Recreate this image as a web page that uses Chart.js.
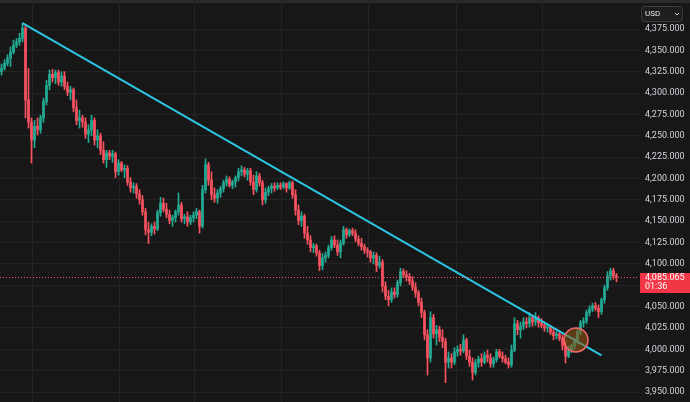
<!DOCTYPE html>
<html>
<head>
<meta charset="utf-8">
<script src="https://cdn.jsdelivr.net/npm/chart.js@4.4.1/dist/chart.umd.min.js"></script>
<style>
    html, body { margin: 0; padding: 0; background: #171717; }
    #wrap { width: 690px; height: 402px; position: relative; }
</style>
</head>
<body>
<div id="wrap"><canvas id="priceChart" width="690" height="402"></canvas></div>
<script>
// ========================================
// DATA (one candle per slot)
// ========================================

const opens = [
    4325, 4329, 4335, 4341, 4348, 4356, 4360, 4364, 4376, 4292,
    4266, 4245, 4261, 4257, 4271, 4290, 4309, 4322, 4318, 4324,
    4313, 4320, 4308, 4301, 4304, 4283, 4268, 4271, 4266, 4252,
    4257, 4268, 4245, 4250, 4233, 4222, 4230, 4226, 4229, 4208,
    4218, 4210, 4212, 4196, 4189, 4191, 4182, 4175, 4161, 4140,
    4137, 4144, 4141, 4160, 4171, 4164, 4158, 4151, 4154, 4161,
    4169, 4153, 4155, 4149, 4154, 4157, 4161, 4144, 4187, 4216,
    4198, 4181, 4177, 4183, 4188, 4195, 4199, 4192, 4196, 4201,
    4208, 4210, 4205, 4209, 4196, 4187, 4203, 4195, 4175, 4184,
    4188, 4191, 4189, 4192, 4190, 4194, 4189, 4195, 4181, 4163,
    4151, 4156, 4136, 4128, 4119, 4121, 4113, 4098, 4107, 4110,
    4119, 4128, 4122, 4114, 4124, 4140, 4134, 4139, 4136, 4129,
    4124, 4120, 4116, 4114, 4107, 4110, 4098, 4102, 4074, 4062,
    4058, 4067, 4064, 4078, 4091, 4087, 4085, 4080, 4073, 4066,
    4055, 4043, 4017, 3990, 4037, 4018, 4023, 4014, 4009, 3985,
    3990, 3985, 3997, 4000, 3998, 4011, 3992, 3985, 3973, 3984,
    3989, 3985, 3993, 3990, 3983, 3988, 3997, 3992, 3989, 3985,
    3982, 3999, 4030, 4023, 4027, 4032, 4030, 4037, 4032, 4036,
    4031, 4028, 4025, 4026, 4020, 4016, 4018, 4013, 4004, 3992,
    3999, 4004, 4009, 4020, 4031, 4033, 4043, 4047, 4051, 4048,
    4044, 4058, 4072, 4086, 4092, 4086
];

const highs = [
    4334, 4339, 4345, 4354, 4362, 4364, 4370, 4382, 4379, 4329,
    4271, 4268, 4271, 4274, 4294, 4315, 4327, 4328, 4327, 4327,
    4325, 4325, 4313, 4308, 4306, 4292, 4280, 4274, 4271, 4263,
    4274, 4271, 4257, 4253, 4243, 4233, 4233, 4233, 4231, 4222,
    4220, 4216, 4215, 4201, 4195, 4194, 4187, 4180, 4165, 4149,
    4147, 4149, 4163, 4178, 4177, 4171, 4163, 4157, 4163, 4183,
    4172, 4158, 4161, 4157, 4161, 4165, 4163, 4192, 4223, 4219,
    4208, 4189, 4187, 4191, 4198, 4203, 4202, 4198, 4203, 4212,
    4215, 4213, 4212, 4212, 4204, 4208, 4206, 4198, 4189, 4191,
    4194, 4195, 4195, 4195, 4196, 4195, 4197, 4197, 4187, 4169,
    4161, 4158, 4144, 4133, 4124, 4123, 4116, 4112, 4114, 4122,
    4132, 4133, 4128, 4128, 4144, 4142, 4141, 4142, 4140, 4133,
    4130, 4123, 4119, 4116, 4114, 4113, 4109, 4105, 4079, 4069,
    4072, 4072, 4081, 4095, 4094, 4092, 4089, 4085, 4078, 4069,
    4060, 4046, 4023, 4044, 4041, 4028, 4027, 4023, 4013, 3997,
    3995, 4002, 4004, 4006, 4017, 4013, 3999, 3990, 3988, 3992,
    3995, 3997, 3999, 3995, 3991, 4000, 4000, 3997, 3993, 3990,
    4005, 4037, 4034, 4032, 4037, 4037, 4043, 4040, 4043, 4039,
    4036, 4032, 4030, 4028, 4025, 4021, 4020, 4017, 4009, 4004,
    4006, 4013, 4025, 4034, 4037, 4046, 4051, 4054, 4055, 4052,
    4060, 4075, 4091, 4095, 4095, 4089
];

const lows = [
    4321, 4327, 4332, 4331, 4346, 4353, 4356, 4360, 4271, 4259,
    4218, 4236, 4251, 4253, 4266, 4286, 4304, 4313, 4311, 4309,
    4308, 4304, 4297, 4292, 4278, 4263, 4259, 4260, 4247, 4242,
    4250, 4239, 4236, 4228, 4218, 4213, 4222, 4219, 4201, 4204,
    4208, 4201, 4192, 4184, 4183, 4177, 4170, 4157, 4134, 4124,
    4133, 4135, 4139, 4156, 4161, 4154, 4147, 4144, 4149, 4157,
    4149, 4147, 4144, 4146, 4149, 4153, 4136, 4142, 4183, 4192,
    4175, 4172, 4171, 4178, 4184, 4191, 4190, 4188, 4190, 4197,
    4203, 4202, 4198, 4192, 4181, 4184, 4191, 4169, 4171, 4180,
    4183, 4185, 4187, 4187, 4188, 4184, 4187, 4177, 4157, 4146,
    4144, 4130, 4123, 4114, 4113, 4109, 4092, 4093, 4102, 4107,
    4116, 4119, 4110, 4107, 4122, 4130, 4132, 4133, 4126, 4121,
    4116, 4112, 4108, 4102, 4100, 4091, 4095, 4067, 4058, 4051,
    4055, 4060, 4061, 4074, 4084, 4080, 4076, 4069, 4061, 4051,
    4037, 4011, 3970, 3985, 4013, 4005, 4009, 4002, 3961, 3978,
    3978, 3982, 3992, 3993, 3996, 3988, 3980, 3964, 3970, 3979,
    3980, 3983, 3985, 3979, 3979, 3985, 3990, 3985, 3983, 3978,
    3979, 3997, 4017, 4013, 4023, 4025, 4026, 4027, 4028, 4026,
    4025, 4021, 4020, 4017, 4011, 4012, 4010, 3999, 3984, 3990,
    3996, 4000, 4006, 4017, 4026, 4030, 4039, 4044, 4045, 4037,
    4041, 4054, 4069, 4081, 4082, 4079
];

const closes = [
    4329, 4335, 4341, 4348, 4356, 4360, 4364, 4376, 4292, 4266,
    4245, 4261, 4257, 4271, 4290, 4309, 4322, 4318, 4324, 4313,
    4320, 4308, 4301, 4304, 4283, 4268, 4271, 4266, 4252, 4257,
    4268, 4245, 4250, 4233, 4222, 4230, 4226, 4229, 4208, 4218,
    4210, 4212, 4196, 4189, 4191, 4182, 4175, 4161, 4140, 4137,
    4144, 4141, 4160, 4171, 4164, 4158, 4151, 4154, 4161, 4169,
    4153, 4155, 4149, 4154, 4157, 4161, 4144, 4187, 4216, 4198,
    4181, 4177, 4183, 4188, 4195, 4199, 4192, 4196, 4201, 4208,
    4210, 4205, 4209, 4196, 4187, 4203, 4195, 4175, 4184, 4188,
    4191, 4189, 4192, 4190, 4194, 4189, 4195, 4181, 4163, 4151,
    4156, 4136, 4128, 4119, 4121, 4113, 4098, 4107, 4110, 4119,
    4128, 4122, 4114, 4124, 4140, 4134, 4139, 4136, 4129, 4124,
    4120, 4116, 4114, 4107, 4110, 4098, 4102, 4074, 4062, 4058,
    4067, 4064, 4078, 4091, 4087, 4085, 4080, 4073, 4066, 4055,
    4043, 4017, 3990, 4037, 4018, 4023, 4014, 4009, 3985, 3990,
    3985, 3997, 4000, 3998, 4011, 3992, 3985, 3973, 3984, 3989,
    3985, 3993, 3990, 3983, 3988, 3997, 3992, 3989, 3985, 3982,
    3999, 4030, 4023, 4027, 4032, 4030, 4037, 4032, 4036, 4031,
    4028, 4025, 4026, 4020, 4016, 4018, 4013, 4004, 3992, 3999,
    4004, 4009, 4020, 4031, 4033, 4043, 4047, 4051, 4048, 4044,
    4058, 4072, 4086, 4092, 4086, 4085.065
];

// price scale ticks
const priceTicks = [
    3950, 3975, 4000, 4025, 4050, 4075, 4100, 4125, 4150,
    4175, 4200, 4225, 4250, 4275, 4300, 4325, 4350, 4375
];

// session boundaries (candle slot where a new day starts)
const sessionStarts = [10.67, 40, 64.67, 93.67, 123, 152.33, 181];

// drawn trendline: [slot, price] from the top to its end
const trendLine = [[7.5, 4382], [200.5, 3993]];

// highlighted breakout spot: [slot, price]
const breakout = [192, 4011];

const lastPrice = 4085.065;
const countdown = '01:36';
const currency = 'USD';

// ========================================
// THEME
// ========================================

const BG = '#171717';
const GRID = '#242424';
const UP = '#22ab94';
const DOWN = '#f7525f';
const TEXT = '#d1d4dc';

const fmtPrice = v => v.toLocaleString('en-US', { minimumFractionDigits: 3, maximumFractionDigits: 3 });
const candleColor = ctx => closes[ctx.dataIndex] >= opens[ctx.dataIndex] ? UP : DOWN;

// ========================================
// OVERLAY PLUGIN (background, price line, labels)
// ========================================

const tvOverlay = {
    id: 'tvOverlay',
    beforeDraw(chart) {
        const { ctx, width, height } = chart;
        ctx.save();
        ctx.fillStyle = BG;
        ctx.fillRect(0, 0, width, height);
        ctx.fillStyle = '#2a2a2a';
        ctx.fillRect(0, 0, width, 3);
        ctx.restore();
    },
    afterDatasetsDraw(chart) {
        const { ctx, chartArea, scales: { y } } = chart;
        const py = Math.round(y.getPixelForValue(lastPrice)) + 0.5;
        ctx.save();
        ctx.strokeStyle = DOWN;
        ctx.lineWidth = 1;
        ctx.setLineDash([1, 2]);
        ctx.beginPath();
        ctx.moveTo(chartArea.left, py);
        ctx.lineTo(chartArea.right, py);
        ctx.stroke();
        ctx.restore();
    },
    afterDraw(chart) {
        const { ctx, chartArea, scales: { y } } = chart;
        const py = y.getPixelForValue(lastPrice);
        const bx = chartArea.right + 2;

        ctx.save();
        // last price label
        ctx.fillStyle = '#f23645';
        ctx.fillRect(bx, Math.round(py - 4), chart.width - bx, 20);
        ctx.fillStyle = '#ffffff';
        ctx.font = '9px Roboto, sans-serif';
        ctx.textBaseline = 'middle';
        ctx.fillText(fmtPrice(lastPrice), chartArea.right + 7, py + 1.5);
        ctx.fillText(countdown, chartArea.right + 7, py + 10.5);

        // currency selector
        const ux = 641, uy = 6, uw = 41, uh = 15;
        ctx.beginPath();
        ctx.roundRect(ux + 0.5, uy + 0.5, uw, uh, 3);
        ctx.fillStyle = '#1e1e1e';
        ctx.fill();
        ctx.strokeStyle = '#3c3c3c';
        ctx.stroke();
        ctx.fillStyle = '#e6e6e6';
        ctx.font = '8px Roboto, sans-serif';
        ctx.fillText(currency, ux + 4, uy + 8);
        ctx.strokeStyle = '#cfcfcf';
        ctx.lineWidth = 1;
        ctx.beginPath();
        ctx.moveTo(ux + 34, uy + 7);
        ctx.lineTo(ux + 36, uy + 9);
        ctx.lineTo(ux + 38, uy + 7);
        ctx.stroke();
        ctx.restore();
    }
};

// ========================================
// CHART
// ========================================

function initPriceChart(canvas) {
    const slots = opens.map((_, i) => i + 0.5);

    return new Chart(canvas.getContext('2d'), {
        type: 'bar',
        data: {
            datasets: [
                {
                    type: 'line',
                    data: trendLine.map(([x, y]) => ({ x, y })),
                    borderColor: '#2cc5e3',
                    borderWidth: 2,
                    pointRadius: 0,
                    order: 2
                },
                {
                    type: 'bubble',
                    data: [{ x: breakout[0], y: breakout[1], r: 12 }],
                    backgroundColor: 'rgba(150, 90, 20, 0.55)',
                    borderColor: '#f36b6b',
                    borderWidth: 1.5,
                    order: 1
                },
                {
                    // bodies: open -> close
                    data: slots.map((x, i) => ({ x, y: [opens[i], closes[i]] })),
                    backgroundColor: candleColor,
                    barThickness: 2,
                    minBarLength: 1,
                    grouped: false,
                    order: 3
                },
                {
                    // wicks: low -> high
                    data: slots.map((x, i) => ({ x, y: [lows[i], highs[i]] })),
                    backgroundColor: candleColor,
                    barThickness: 1,
                    grouped: false,
                    order: 4
                }
            ]
        },
        options: {
            responsive: false,
            animation: false,
            layout: { padding: 0, autoPadding: false },
            plugins: {
                legend: { display: false },
                tooltip: { enabled: false }
            },
            scales: {
                x: {
                    type: 'linear',
                    min: 0,
                    max: 212.67,
                    offset: false,
                    grid: { color: GRID, offset: false, drawTicks: false },
                    border: { display: false },
                    ticks: { display: false },
                    afterBuildTicks: scale => {
                        scale.ticks = sessionStarts.map(value => ({ value }));
                    },
                    afterFit: scale => {
                        scale.height = 0;
                        scale.paddingLeft = 0;
                        scale.paddingRight = 0;
                    }
                },
                y: {
                    position: 'right',
                    min: 3938.3,
                    max: 4409,
                    grid: { color: GRID, drawTicks: false },
                    border: { display: false },
                    afterBuildTicks: scale => {
                        scale.ticks = priceTicks.map(value => ({ value }));
                    },
                    afterFit: scale => {
                        scale.width = 52;
                        scale.paddingTop = 0;
                        scale.paddingBottom = 0;
                    },
                    ticks: {
                        color: TEXT,
                        padding: 7,
                        font: { family: 'Roboto', size: 9 },
                        callback: value => Math.abs(value - lastPrice) < 14 ? '' : fmtPrice(value)
                    }
                }
            }
        },
        plugins: [tvOverlay]
    });
}

document.addEventListener('DOMContentLoaded', () => {
    window.priceChart = initPriceChart(document.getElementById('priceChart'));
});
</script>
</body>
</html>
